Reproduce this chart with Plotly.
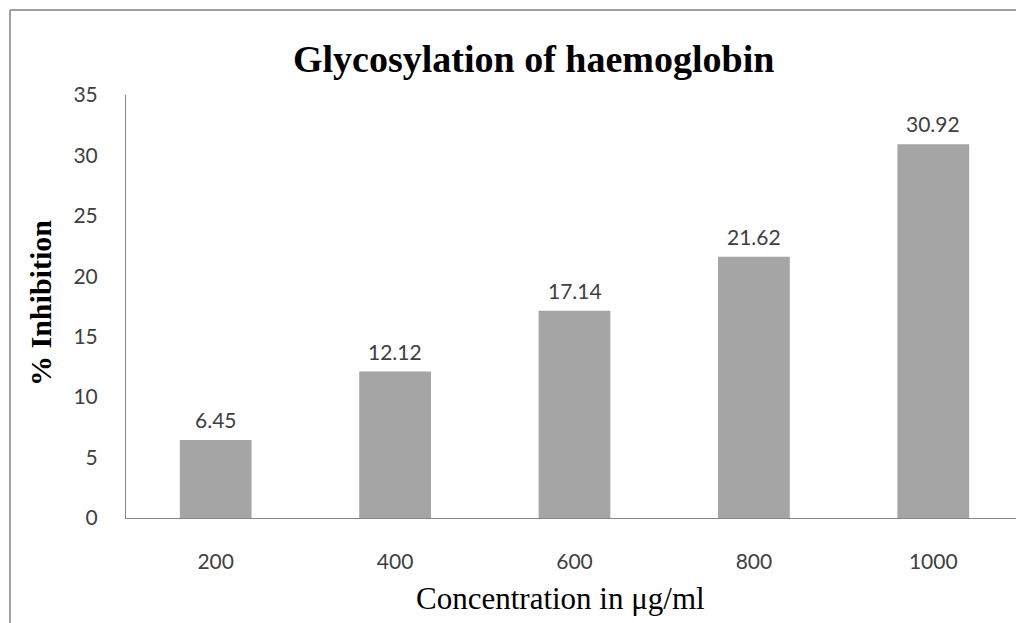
import plotly.graph_objects as go

categories = ["200", "400", "600", "800", "1000"]
inhibition = [6.45, 12.12, 17.14, 21.62, 30.92]
y_ticks = [0, 5, 10, 15, 20, 25, 30, 35]

# The page places the figure 8px from the top-left corner (body margin)
OFF = 8
W, H = 1024 - OFF, 623 - OFF
ML, MR, MT, MB = 126 - OFF, 1, 95 - OFF, 105
PW = W - ML - MR
PH = H - MT - MB

def px_to_paper_x(px):
    return (px - OFF - ML) / PW

def px_to_paper_y(py):
    return (H - MB - (py - OFF)) / PH

xpos = list(range(len(categories)))

fig = go.Figure()
fig.add_trace(go.Bar(
    x=xpos, y=inhibition,
    marker=dict(color="#A5A5A5", line=dict(width=0)),
    width=0.4,
    customdata=categories,
    hovertemplate="%{customdata}: %{y}<extra></extra>",
))

for xi, v in zip(xpos, inhibition):
    fig.add_annotation(
        x=xi, y=v, text=f"{v:.2f}", showarrow=False,
        xref="x", yref="y", yanchor="bottom", yshift=6,
        font=dict(family="Lato", size=21, color="#404040"),
    )

# Title and axis titles
fig.add_annotation(
    x=px_to_paper_x(533), y=px_to_paper_y(59), xref="paper", yref="paper",
    text="<b>Glycosylation of haemoglobin</b>", showarrow=False,
    xanchor="center", yanchor="middle",
    font=dict(family="Liberation Serif", size=38, color="#000000"),
)
fig.add_annotation(
    x=px_to_paper_x(40), y=px_to_paper_y(303), xref="paper", yref="paper",
    text="<b>% Inhibition</b>", showarrow=False, textangle=-90,
    xanchor="center", yanchor="middle",
    font=dict(family="Liberation Serif", size=30, color="#000000"),
)
fig.add_annotation(
    x=px_to_paper_x(560), y=px_to_paper_y(598), xref="paper", yref="paper",
    text="Concentration in μg/ml", showarrow=False,
    xanchor="center", yanchor="middle",
    font=dict(family="Liberation Serif", size=31, color="#000000"),
)

# Outer chart border: only top and left edges are visible in the view
border = dict(color="#A0A0A0", width=2)
fig.add_shape(
    type="line", xref="paper", yref="paper",
    x0=px_to_paper_x(10), x1=px_to_paper_x(1040),
    y0=px_to_paper_y(10), y1=px_to_paper_y(10),
    line=border, layer="below",
)
fig.add_shape(
    type="line", xref="paper", yref="paper",
    x0=px_to_paper_x(10), x1=px_to_paper_x(10),
    y0=px_to_paper_y(10), y1=px_to_paper_y(640),
    line=border, layer="below",
)

fig.update_layout(
    width=W, height=H,
    margin=dict(l=ML, r=MR, t=MT, b=MB, pad=0),
    paper_bgcolor="white", plot_bgcolor="white",
    showlegend=False,
    font=dict(family="Lato", size=21, color="#404040"),
)
fig.update_xaxes(
    range=[-0.5, len(categories) - 0.5],
    tickvals=xpos, ticktext=categories,
    showline=True, linecolor="#868686", linewidth=1,
    showgrid=False, ticks="", ticklabelstandoff=25,
    tickfont=dict(family="Lato", size=21, color="#404040"),
    zeroline=False,
)
fig.update_yaxes(
    range=[0, 35], tickvals=y_ticks, showline=True, linecolor="#868686",
    linewidth=1, showgrid=False, ticks="", ticklabelstandoff=23,
    tickfont=dict(family="Lato", size=21, color="#404040"),
    zeroline=False,
)

fig.write_html("out.html")
